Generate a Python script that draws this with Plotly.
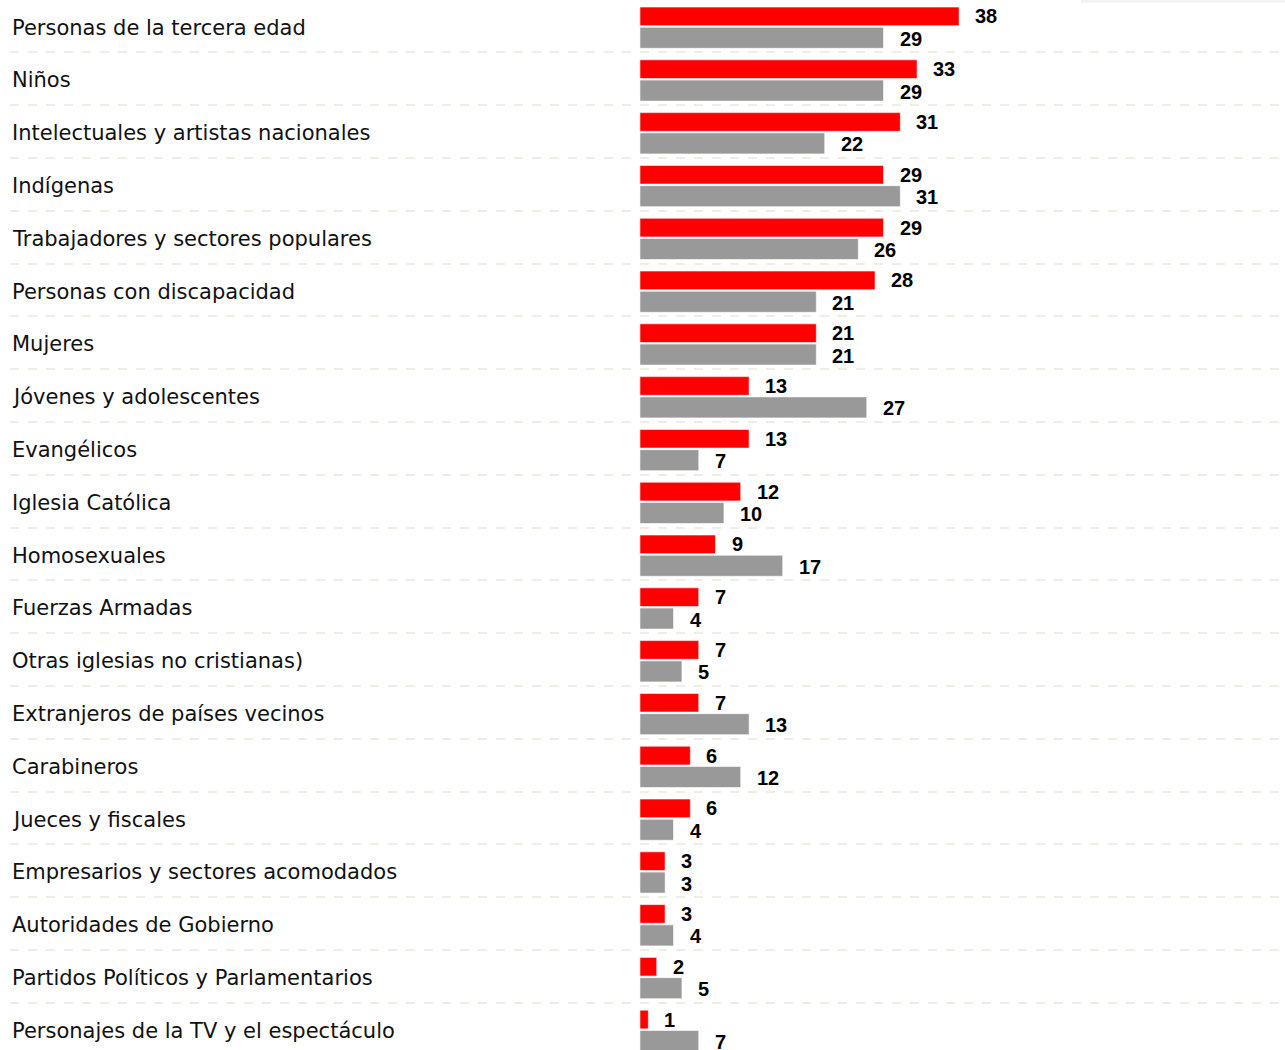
import plotly.graph_objects as go

categories = [
    "Personas de la tercera edad", "Niños", "Intelectuales y artistas nacionales",
    "Indígenas", "Trabajadores y sectores populares", "Personas con discapacidad",
    "Mujeres", "Jóvenes y adolescentes", "Evangélicos", "Iglesia Católica",
    "Homosexuales", "Fuerzas Armadas", "Otras iglesias no cristianas)",
    "Extranjeros de países vecinos", "Carabineros", "Jueces y fiscales",
    "Empresarios y sectores acomodados", "Autoridades de Gobierno",
    "Partidos Políticos y Parlamentarios", "Personajes de la TV y el espectáculo",
]
red_values = [38, 33, 31, 29, 29, 28, 21, 13, 13, 12, 9, 7, 7, 7, 6, 6, 3, 3, 2, 1]
gray_values = [29, 29, 22, 31, 26, 21, 21, 27, 7, 10, 17, 4, 5, 13, 12, 4, 3, 4, 5, 7]

RED = "#ff0000"
GRAY = "#999999"
pos = list(range(len(categories)))

RED_OFF, RED_W = -0.39, 0.354
GRAY_OFF, GRAY_W = -0.006, 0.398

fig = go.Figure()
fig.add_trace(go.Bar(
    y=pos, x=red_values, orientation="h", name="Serie A",
    marker=dict(color=RED, line=dict(color="rgba(255,255,255,0.6)", width=1)),
    offset=RED_OFF, width=RED_W, showlegend=False, hoverinfo="x",
))
fig.add_trace(go.Bar(
    y=pos, x=gray_values, orientation="h", name="Serie B",
    marker=dict(color=GRAY, line=dict(color="rgba(255,255,255,0.6)", width=1)),
    offset=GRAY_OFF, width=GRAY_W, showlegend=False, hoverinfo="x",
))

annotations = []
for i, (cat, r, g) in enumerate(zip(categories, red_values, gray_values)):
    annotations.append(dict(
        x=-75.0, y=i, xref="x", yref="y", text=cat, showarrow=False,
        xanchor="left", yanchor="middle", yshift=0,
        font=dict(family="DejaVu Sans", size=21, color="#111111"),
    ))
    annotations.append(dict(
        x=r, y=i + RED_OFF + RED_W / 2, xref="x", yref="y", text=f"<b>{r}</b>",
        showarrow=False, xanchor="left", yanchor="middle", xshift=15, yshift=0,
        borderpad=0, font=dict(family="Arial", size=20, color="#000000"),
    ))
    annotations.append(dict(
        x=g, y=i + GRAY_OFF + GRAY_W / 2, xref="x", yref="y", text=f"<b>{g}</b>",
        showarrow=False, xanchor="left", yanchor="middle", xshift=15, yshift=-1,
        borderpad=0, font=dict(family="Arial", size=20, color="#000000"),
    ))

fig.update_layout(
    width=1285, height=1050,
    margin=dict(l=10, r=0, t=0, b=0),
    paper_bgcolor="white", plot_bgcolor="white",
    barmode="overlay",
    annotations=annotations,
    shapes=[dict(type="line", xref="paper", yref="paper", x0=0.84, x1=1.0,
                 y0=0.999, y1=0.999, line=dict(color="#f2f2f2", width=3))],
    xaxis=dict(range=[-75.0, 76.8], showgrid=False, zeroline=False,
               showticklabels=False, showline=False, fixedrange=True),
    yaxis=dict(range=[19.364, -0.523], tickvals=[k + 0.47 for k in pos],
               showticklabels=False, showgrid=True, gridcolor="#efeee2",
               gridwidth=2, griddash="dash", zeroline=False, showline=False,
               ticks="", fixedrange=True),
)

fig.write_html(
    "out.html",
    config={"displayModeBar": False},
    post_script="document.body.style.margin='0px';document.body.style.overflow='hidden';",
)
